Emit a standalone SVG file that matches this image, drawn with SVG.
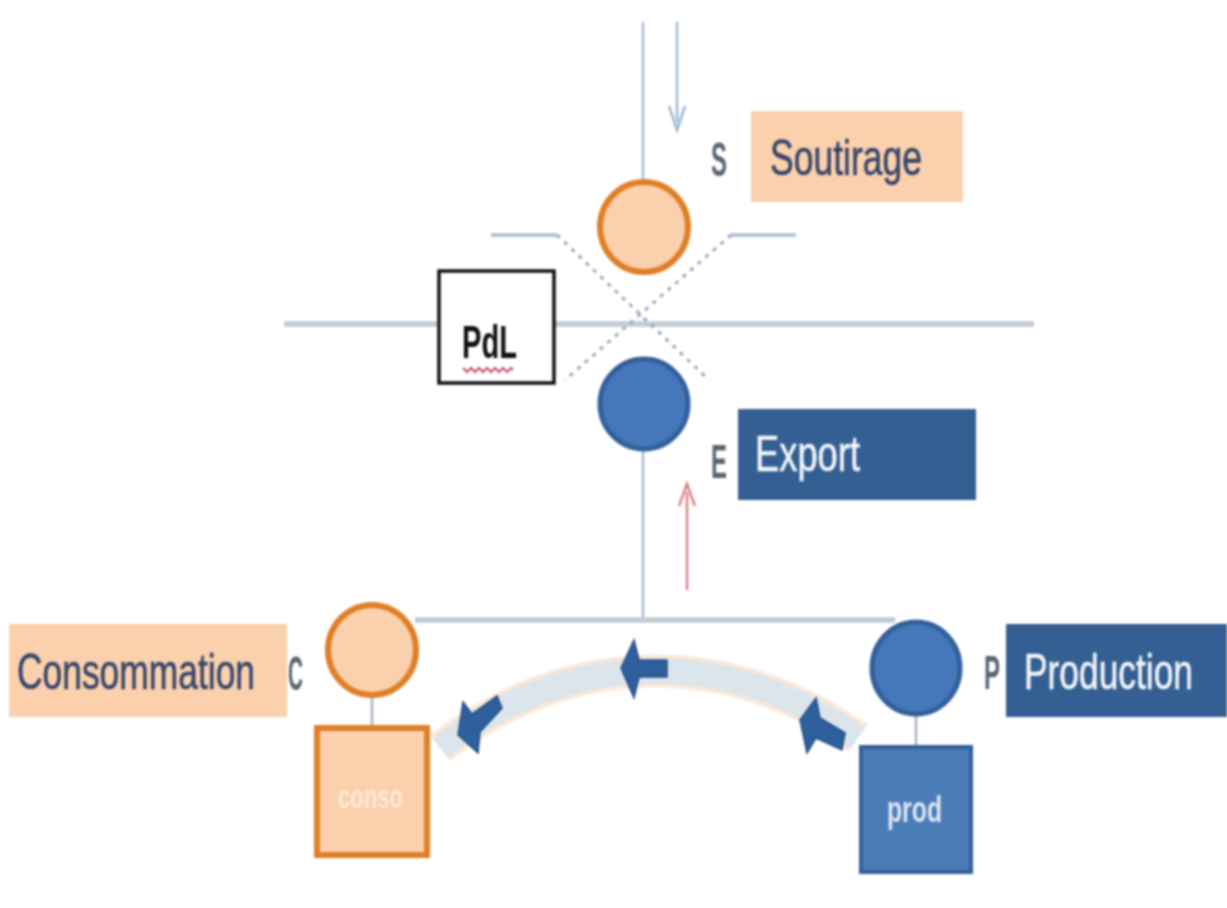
<svg xmlns="http://www.w3.org/2000/svg" width="1227" height="908" viewBox="0 0 1227 908">
<defs><filter id="soft" x="-5%" y="-5%" width="110%" height="110%" color-interpolation-filters="sRGB"><feGaussianBlur stdDeviation="0.9"/></filter></defs>
<style>
text{font-family:"Liberation Sans",Arial,sans-serif}
svg>g{filter:url(#soft)}
.lab{font-size:50px;stroke-width:.6px}
.let{font-size:48px;fill:#5a6470;font-weight:bold}
.wire{stroke:#a9bdd6;stroke-width:2.5;fill:none}
.bus{stroke:#c1cad5;stroke-width:5.5;fill:none}
.dash{stroke:#9aa9bd;stroke-width:3;stroke-dasharray:4 6;fill:none}
.or{fill:#fbd0ac;stroke:#df7f28;stroke-width:6}
.bl{fill:#4478ba;stroke:#32609a;stroke-width:5}
.ar{fill:#2f5f9c;stroke:#264f85;stroke-width:1.5}
</style>
<rect width="1227" height="908" fill="#fff"/>
<g id="connectors">
<path class="wire" d="M643 22V182M643 450V622"/>
<path class="wire" d="M372 695V728M916 714V748" style="stroke:#a8b4c2"/>
<path class="bus" d="M415 620H895"/>
<path class="bus" d="M284 324H439M554 324H1034"/>
<path class="bus" d="M491 235H557M731 235H796" style="stroke-width:4;stroke:#b3c4da"/>
<path class="dash" d="M557 235L709 380M731 235L565 380"/>
<path d="M440 748C570 647 730 647 858 738" fill="none" stroke="#fae8d8" stroke-width="33"/>
<path d="M440 748C570 647 730 647 858 738" fill="none" stroke="#dbe5ec" stroke-width="25"/>
<path d="M677 22V122" stroke="#9db9d8" stroke-width="2.5" fill="none"/>
<path d="M669 106L677 130L685 106" stroke="#9db9d8" stroke-width="2.5" fill="none"/>
<path d="M687 590V492" stroke="#e0808c" stroke-width="2.5" fill="none"/>
<path d="M679 506L687 484L695 506" stroke="#e0808c" stroke-width="2.5" fill="none"/>
<polygon class="ar" points="621,668 634,640 639,660 667,660 667,677 639,677 634,698"/>
<polygon class="ar" points="458,735 463,702 472,714 497,696 502,708 480,732 478,753"/>
<polygon class="ar" points="800,720 816,698 820,718 845,733 842,750 816,738 807,753"/>
</g>
<g id="soutirage"><rect x="751" y="111" width="212" height="91" fill="#fbd0ac"/><text class="lab" x="770" y="175" textLength="152" lengthAdjust="spacingAndGlyphs" fill="#36466a" stroke="#36466a">Soutirage</text></g>
<g id="s-letter"><text class="let" x="711" y="176" textLength="16" lengthAdjust="spacingAndGlyphs">S</text></g>
<g id="s-node"><ellipse class="or" cx="644" cy="227" rx="44" ry="45"/></g>
<g id="pdl"><rect x="439" y="271" width="115" height="112" fill="#fff" stroke="#111" stroke-width="3.5"/><text x="462" y="358" font-size="46" font-weight="bold" textLength="55" lengthAdjust="spacingAndGlyphs" fill="#111">PdL</text><path d="M463 368l4 4 4-4 4 4 4-4 4 4 4-4 4 4 4-4 4 4 4-4 4 4 4-4 2 2" fill="none" stroke="#c8506a" stroke-width="2"/></g>
<g id="e-node"><ellipse class="bl" cx="644" cy="404" rx="44" ry="45"/></g>
<g id="e-letter"><text class="let" x="711" y="478" textLength="16" lengthAdjust="spacingAndGlyphs">E</text></g>
<g id="export"><rect x="738" y="409" width="238" height="91" fill="#345f92"/><text class="lab" x="755" y="471" textLength="105" lengthAdjust="spacingAndGlyphs" fill="#f2f5f9" stroke="#f2f5f9">Export</text></g>
<g id="consommation"><rect x="9" y="624" width="278" height="93" fill="#fbd0ac"/><text class="lab" x="17" y="689" textLength="238" lengthAdjust="spacingAndGlyphs" fill="#36466a" stroke="#36466a">Consommation</text></g>
<g id="c-letter"><text class="let" x="288" y="690" textLength="15" lengthAdjust="spacingAndGlyphs">C</text></g>
<g id="c-node"><ellipse class="or" cx="372" cy="650" rx="44" ry="45"/></g>
<g id="conso"><rect x="317" y="728" width="110" height="127" fill="#fbd0ac" stroke="#df7f28" stroke-width="6"/><text x="338" y="808" font-size="34" font-weight="bold" textLength="65" lengthAdjust="spacingAndGlyphs" fill="#fde9d9">conso</text></g>
<g id="p-node"><ellipse class="bl" cx="916" cy="668" rx="44" ry="46"/></g>
<g id="p-letter"><text class="let" x="984" y="689" textLength="16" lengthAdjust="spacingAndGlyphs">P</text></g>
<g id="production"><rect x="1006" y="624" width="221" height="93" fill="#345f92"/><text class="lab" x="1024" y="689" textLength="169" lengthAdjust="spacingAndGlyphs" fill="#f2f5f9" stroke="#f2f5f9">Production</text></g>
<g id="prod"><rect x="861" y="747" width="110" height="125" fill="#4a7cb8" stroke="#32609a" stroke-width="4"/><text x="887" y="822" font-size="36" font-weight="bold" textLength="55" lengthAdjust="spacingAndGlyphs" fill="#dce6f2">prod</text></g>
</svg>
